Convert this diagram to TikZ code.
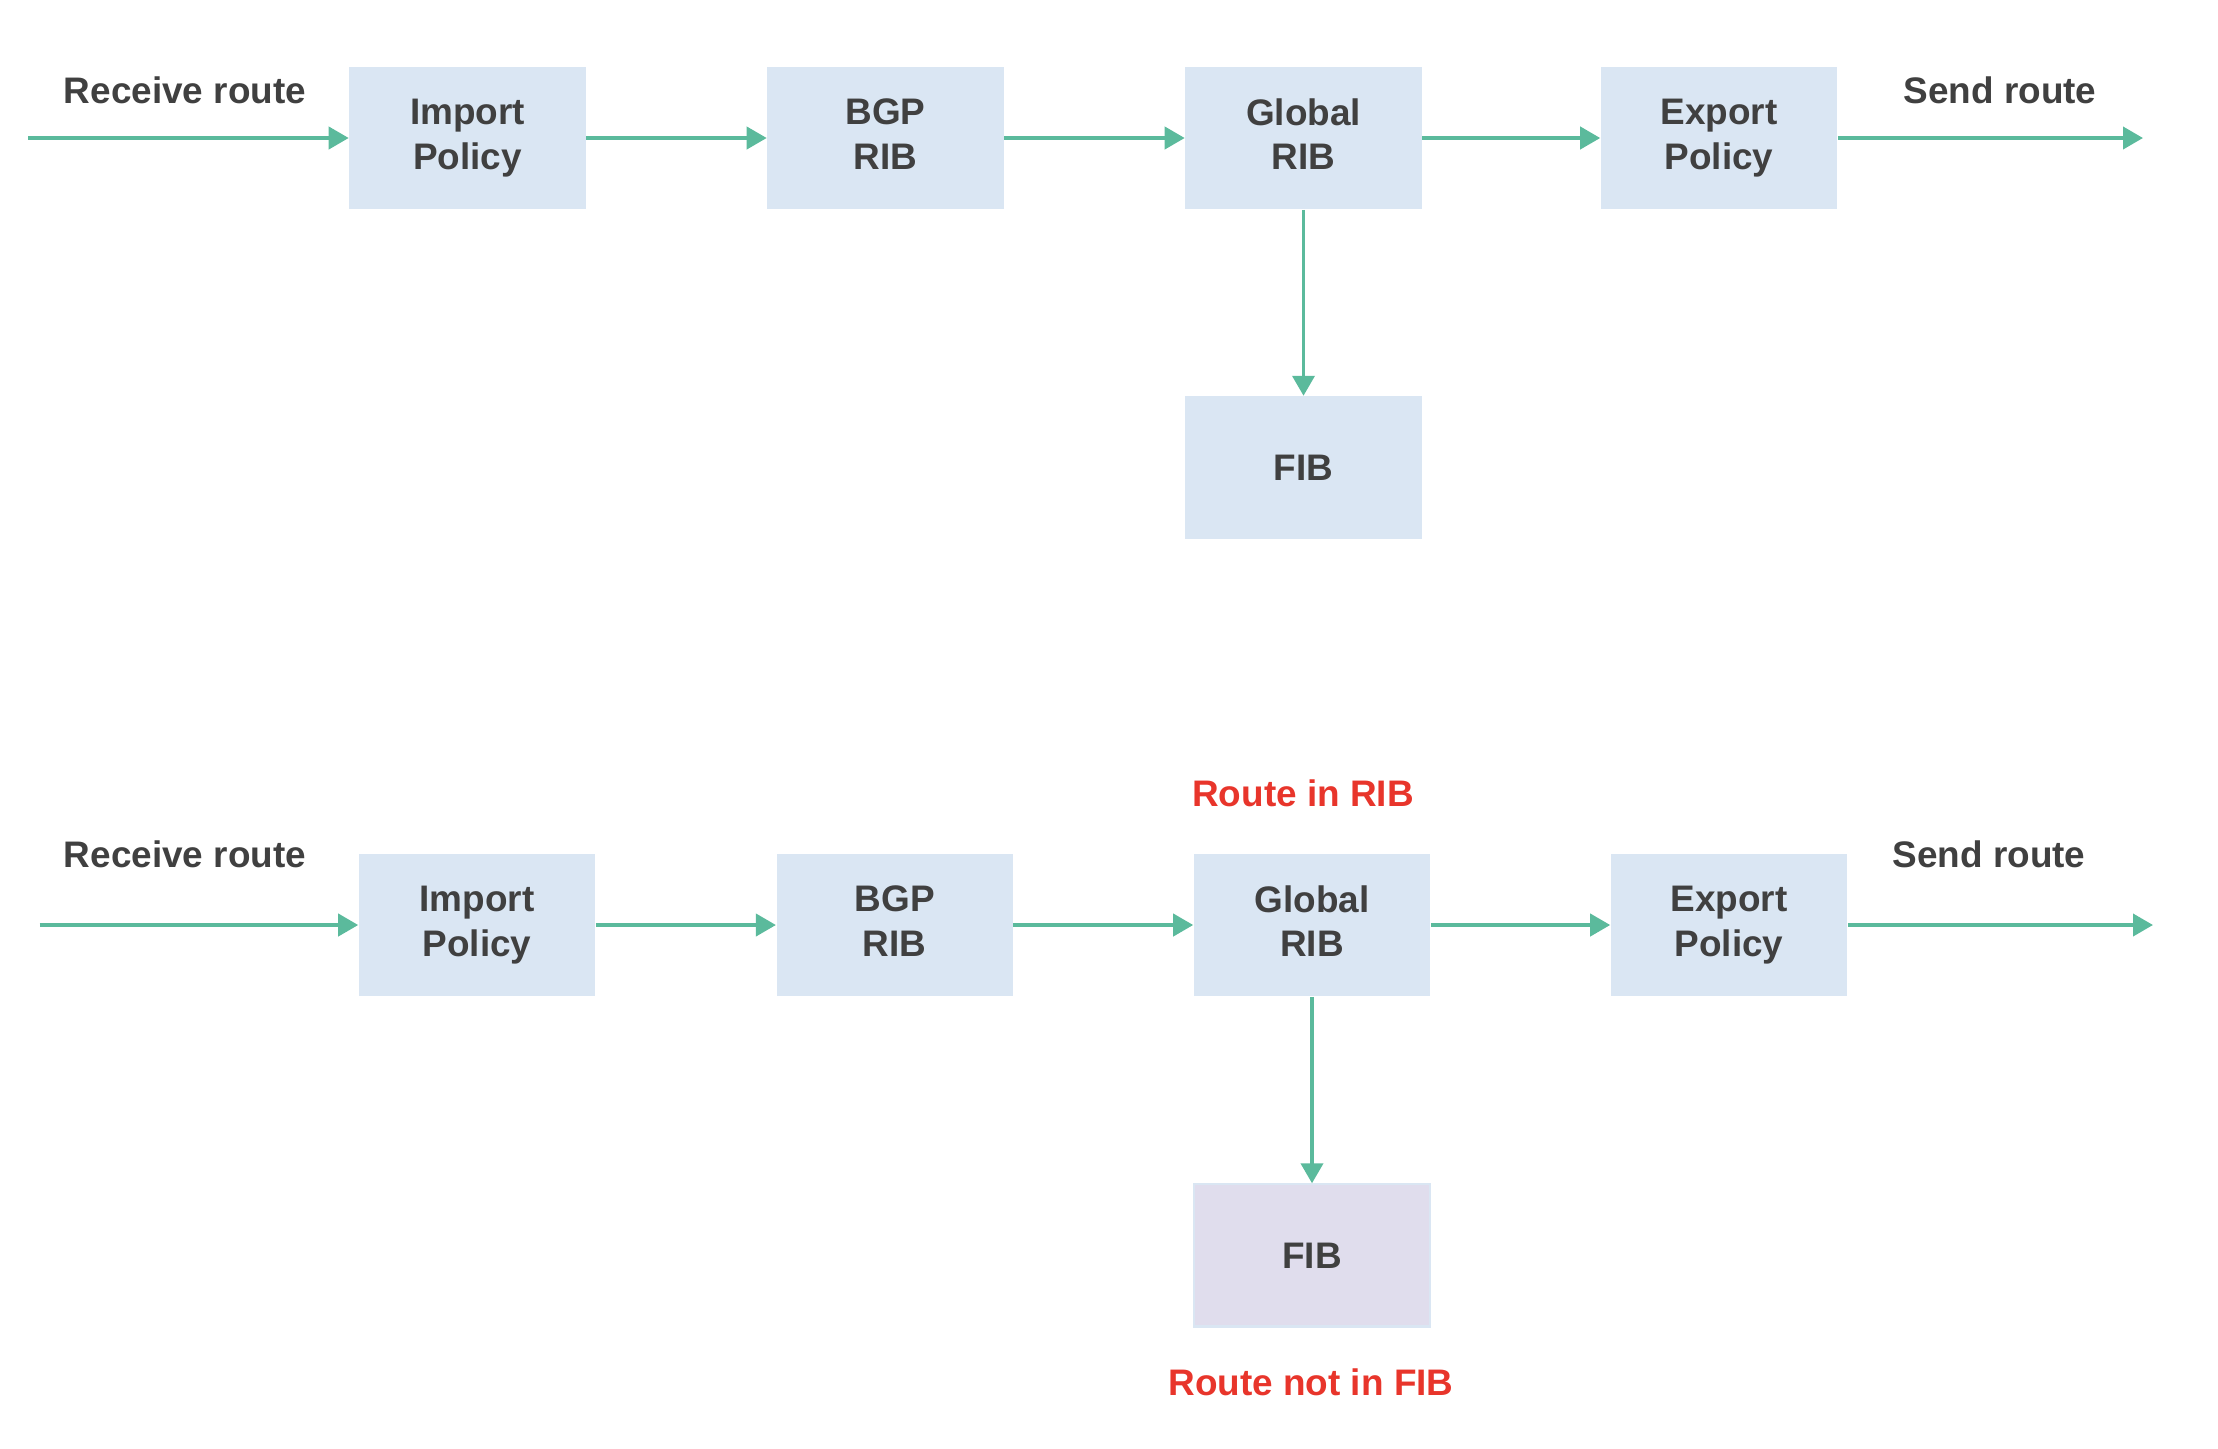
\documentclass[tikz,border=0pt]{standalone}
\usepackage{fontspec}
\setmainfont{Liberation Sans}
\usetikzlibrary{arrows.meta}
\definecolor{boxblue}{HTML}{DAE6F3}
\definecolor{boxlav}{HTML}{E0DDED}
\definecolor{arrgreen}{HTML}{5BBA9C}
\definecolor{txtgray}{HTML}{404040}
\definecolor{txtred}{HTML}{E8352B}
\newcommand{\dsc}{\vphantom{y}}
\tikzset{
  blk/.style={draw=none, fill=boxblue, minimum width=2.36cm, minimum height=1.42cm, inner sep=0pt,
    align=center, font=\fontsize{10.5}{12.6}\selectfont\bfseries, text=txtgray},
  lbl/.style={font=\fontsize{10.5}{12.6}\selectfont\bfseries, text=txtgray, inner sep=0pt},
  redlbl/.style={font=\fontsize{10.5}{12.6}\selectfont\bfseries, text=txtred, inner sep=0pt},
  flow/.style={draw=arrgreen, line width=1.1pt, -{Triangle[length=0.2cm,width=0.22cm]}}
}
\begin{document}
\begin{tikzpicture}[x=0.01cm,y=-0.01cm]
\useasboundingbox (0,0) rectangle (2218,1448);
% top row
\node[blk] (imp1) at (467.5,138) {Import\\Policy};
\node[blk] (bgp1) at (885.5,138) {BGP\\RIB\dsc};
\node[blk] (glb1) at (1303.5,138) {Global\\RIB\dsc};
\node[blk] (exp1) at (1719,138) {Export\\Policy};
\node[blk] (fib1) at (1303.5,467.5) {FIB};
\coordinate (in1) at (28,138);
\coordinate (out1) at (2143,138);
\node[lbl] (rcv1) at (185,90.5) {Receive route};
\node[lbl] (snd1) at (2000,90.5) {Send route};
\draw[flow] (in1) -- (imp1);
\draw[flow] (imp1) -- (bgp1);
\draw[flow] (bgp1) -- (glb1);
\draw[flow] (glb1) -- (exp1);
\draw[flow] (exp1) -- (out1);
\draw[flow] (glb1) -- (fib1);
% bottom row
\node[blk] (imp2) at (477,925) {Import\\Policy};
\node[blk] (bgp2) at (894.7,925) {BGP\\RIB\dsc};
\node[blk] (glb2) at (1312,925) {Global\\RIB\dsc};
\node[blk] (exp2) at (1729,925) {Export\\Policy};
\node[blk, fill=boxlav, draw=boxblue, line width=0.6pt] (fib2) at (1312,1255.4) {FIB};
\coordinate (in2) at (39.6,925);
\coordinate (out2) at (2153,925);
\node[lbl] (rcv2) at (185,854) {Receive route};
\node[lbl] (snd2) at (1989,854) {Send route};
\node[redlbl] (rib2) at (1303,793.5) {Route in RIB};
\node[redlbl] (nfib2) at (1311,1382) {Route not in FIB};
\draw[flow] (in2) -- (imp2);
\draw[flow] (imp2) -- (bgp2);
\draw[flow] (bgp2) -- (glb2);
\draw[flow] (glb2) -- (exp2);
\draw[flow] (exp2) -- (out2);
\draw[flow] (glb2) -- (fib2);
\end{tikzpicture}
\end{document}
